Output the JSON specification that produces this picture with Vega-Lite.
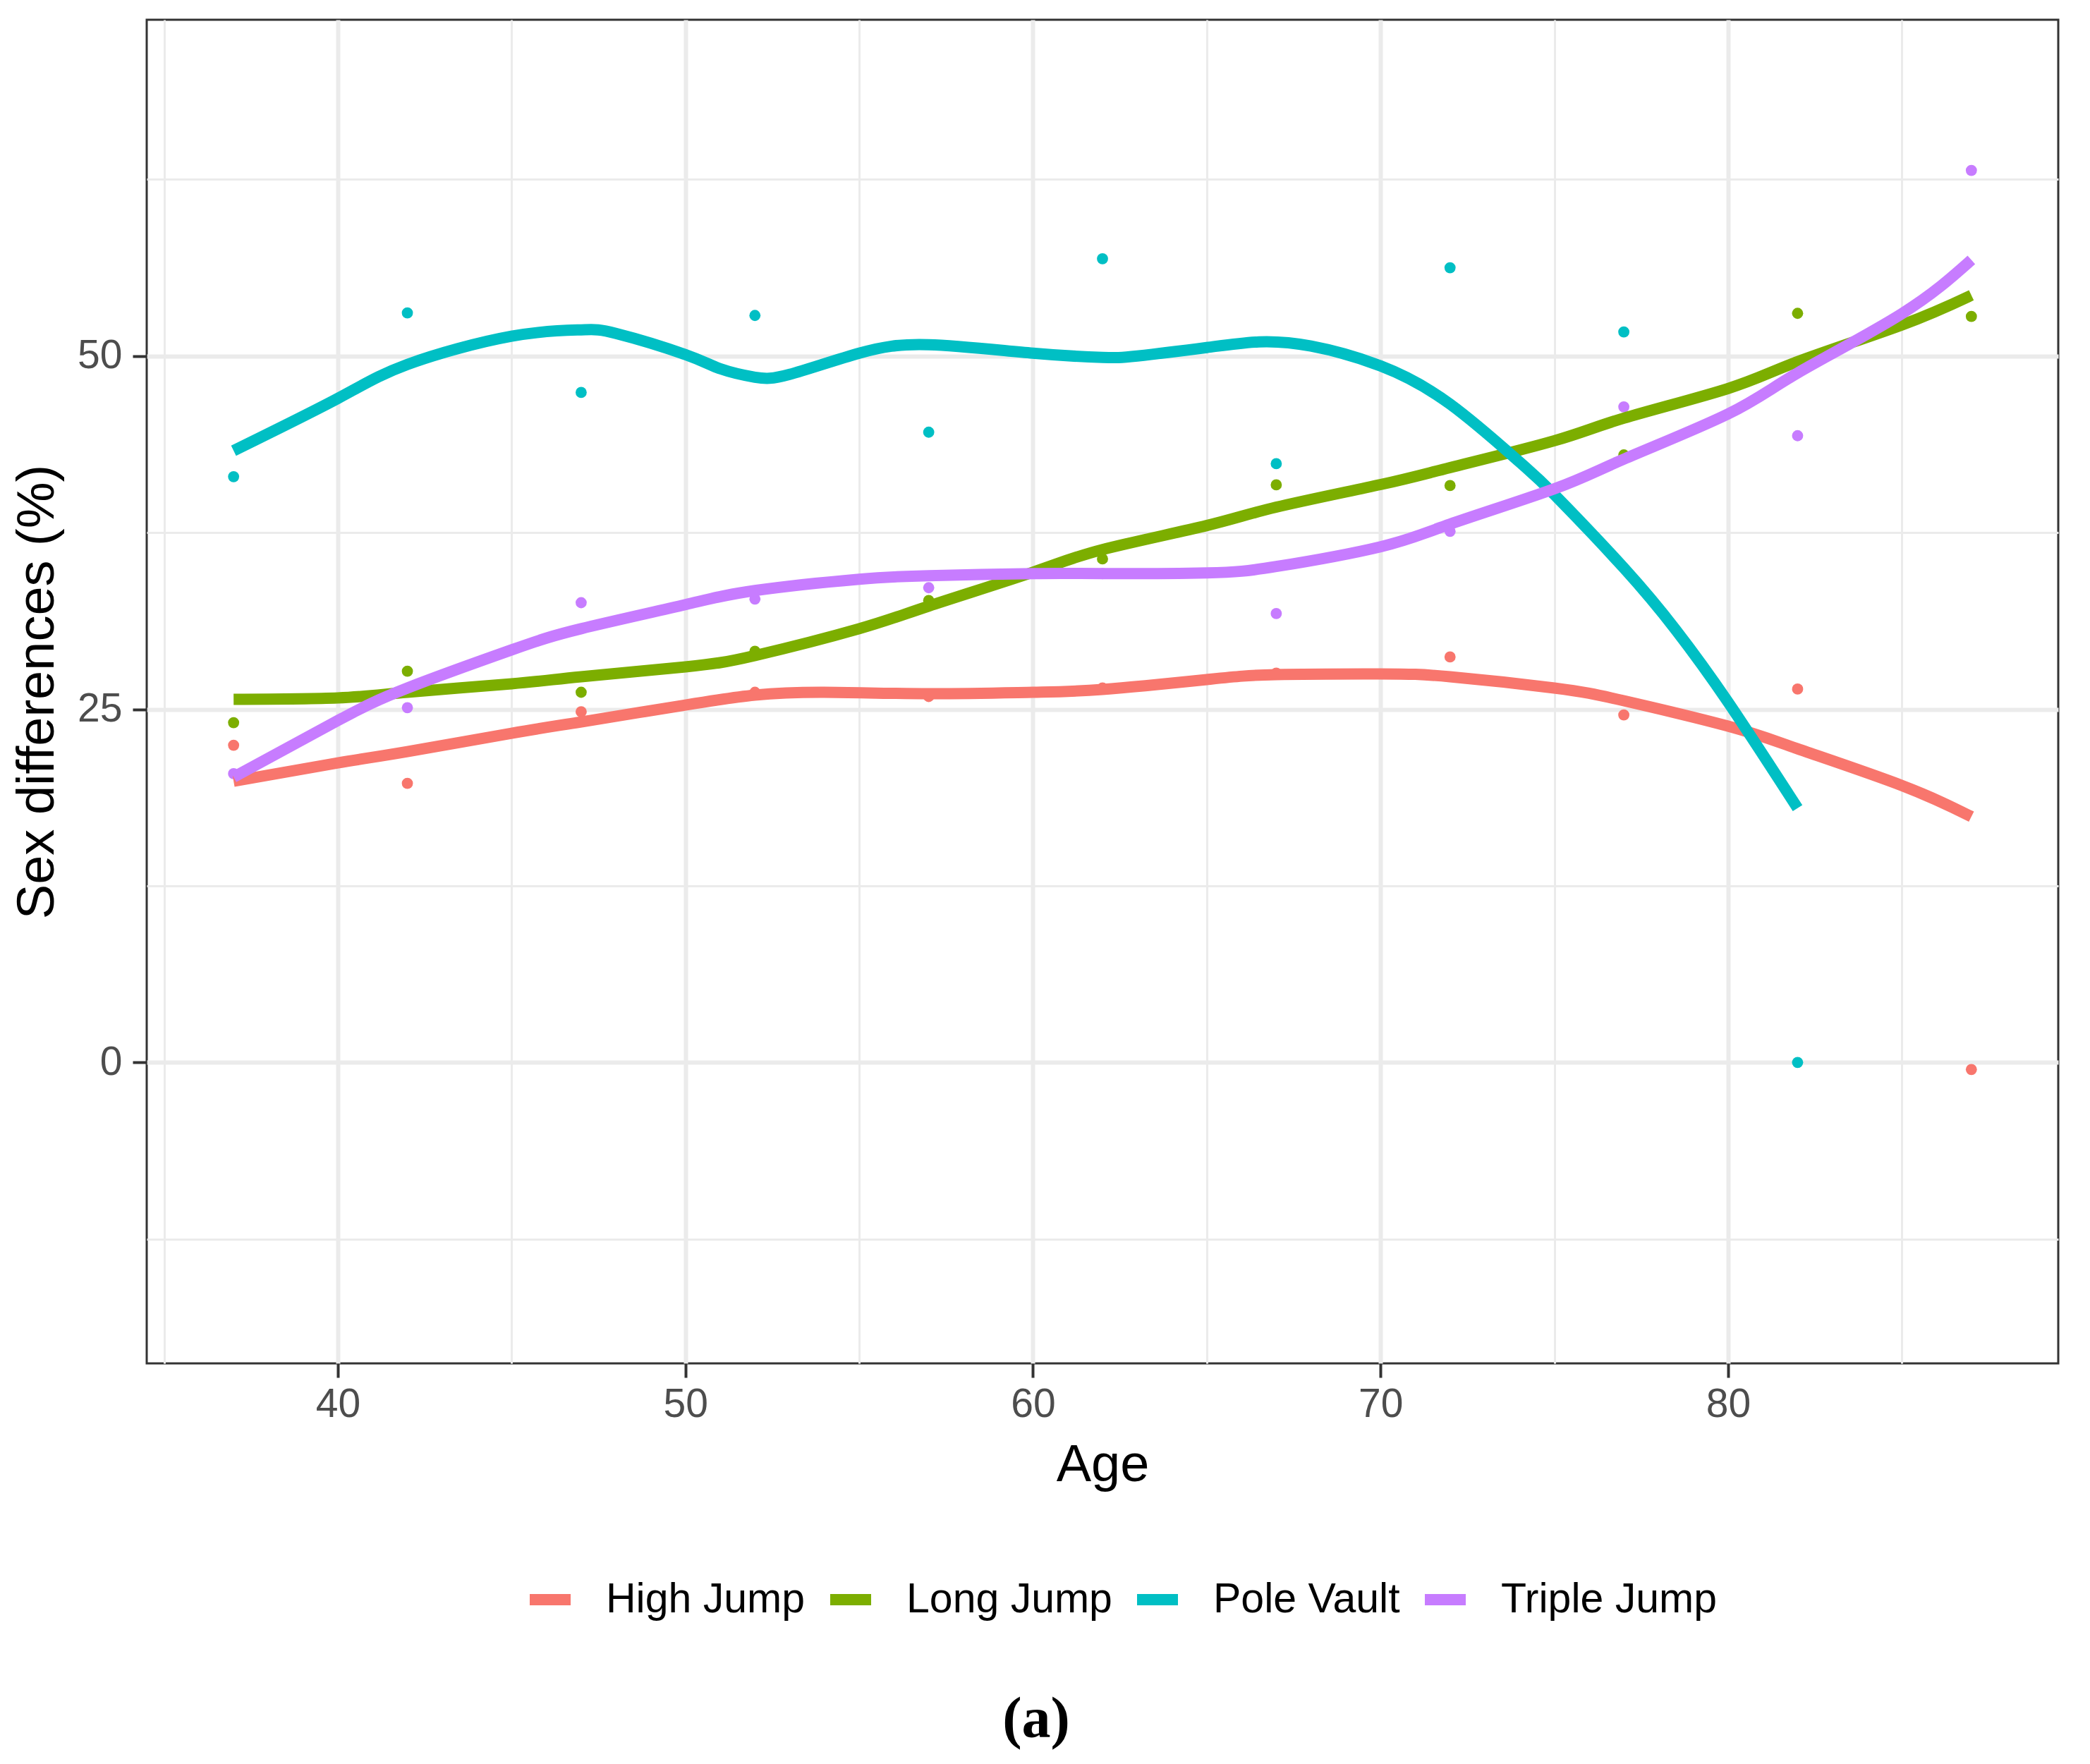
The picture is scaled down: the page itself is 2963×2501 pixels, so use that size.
{
  "$schema": "https://vega.github.io/schema/vega-lite/v6.json",
  "width": 2710,
  "height": 1905,
  "autosize": {"type": "none"},
  "padding": {"left": 208, "top": 28, "right": 45, "bottom": 568},
  "background": "white",
  "title": {
    "text": "(a)",
    "orient": "bottom",
    "anchor": "middle",
    "dx": -94,
    "offset": 98,
    "font": "Liberation Serif",
    "fontSize": 82,
    "fontWeight": "bold",
    "color": "black"
  },
  "config": {
    "view": {"stroke": "#333333", "strokeWidth": 3},
    "axis": {
      "labelFont": "Liberation Sans",
      "titleFont": "Liberation Sans",
      "labelFontSize": 57,
      "labelColor": "#4D4D4D",
      "titleFontSize": 74,
      "titleFontWeight": "normal",
      "titleColor": "black",
      "domain": false,
      "tickColor": "#333333",
      "tickWidth": 4,
      "tickSize": 20,
      "gridColor": "#EBEBEB"
    },
    "legend": {
      "labelFont": "Liberation Sans",
      "labelFontSize": 59,
      "labelColor": "black",
      "labelLimit": 1000
    }
  },
  "datasets": {
    "points": [
      {"event": "High Jump", "age": 37, "value": 22.45},
      {"event": "High Jump", "age": 42, "value": 19.75},
      {"event": "High Jump", "age": 47, "value": 24.82},
      {"event": "High Jump", "age": 52, "value": 26.2},
      {"event": "High Jump", "age": 57, "value": 25.9},
      {"event": "High Jump", "age": 62, "value": 26.5},
      {"event": "High Jump", "age": 67, "value": 27.55},
      {"event": "High Jump", "age": 72, "value": 28.7},
      {"event": "High Jump", "age": 77, "value": 24.6},
      {"event": "High Jump", "age": 82, "value": 26.43},
      {"event": "High Jump", "age": 87, "value": -0.5},
      {"event": "Long Jump", "age": 37, "value": 24.05},
      {"event": "Long Jump", "age": 42, "value": 27.69},
      {"event": "Long Jump", "age": 47, "value": 26.2},
      {"event": "Long Jump", "age": 52, "value": 29.1},
      {"event": "Long Jump", "age": 57, "value": 32.7},
      {"event": "Long Jump", "age": 62, "value": 35.64},
      {"event": "Long Jump", "age": 67, "value": 40.88},
      {"event": "Long Jump", "age": 72, "value": 40.83},
      {"event": "Long Jump", "age": 77, "value": 43.0},
      {"event": "Long Jump", "age": 82, "value": 53.02},
      {"event": "Long Jump", "age": 87, "value": 52.8},
      {"event": "Pole Vault", "age": 37, "value": 41.46},
      {"event": "Pole Vault", "age": 42, "value": 53.05},
      {"event": "Pole Vault", "age": 47, "value": 47.42},
      {"event": "Pole Vault", "age": 52, "value": 52.87},
      {"event": "Pole Vault", "age": 57, "value": 44.61},
      {"event": "Pole Vault", "age": 62, "value": 56.88},
      {"event": "Pole Vault", "age": 67, "value": 42.38},
      {"event": "Pole Vault", "age": 72, "value": 56.25},
      {"event": "Pole Vault", "age": 77, "value": 51.7},
      {"event": "Pole Vault", "age": 82, "value": 0.0},
      {"event": "Triple Jump", "age": 37, "value": 20.44},
      {"event": "Triple Jump", "age": 42, "value": 25.11},
      {"event": "Triple Jump", "age": 47, "value": 32.54},
      {"event": "Triple Jump", "age": 52, "value": 32.8},
      {"event": "Triple Jump", "age": 57, "value": 33.6},
      {"event": "Triple Jump", "age": 62, "value": 34.6},
      {"event": "Triple Jump", "age": 67, "value": 31.77},
      {"event": "Triple Jump", "age": 72, "value": 37.59},
      {"event": "Triple Jump", "age": 77, "value": 46.4},
      {"event": "Triple Jump", "age": 82, "value": 44.36},
      {"event": "Triple Jump", "age": 87, "value": 63.14}
    ],
    "smooth": [
      {"event": "High Jump", "age": 37, "fit": 19.9},
      {"event": "High Jump", "age": 40, "fit": 21.2},
      {"event": "High Jump", "age": 42, "fit": 22.0},
      {"event": "High Jump", "age": 45, "fit": 23.3},
      {"event": "High Jump", "age": 47, "fit": 24.1},
      {"event": "High Jump", "age": 50, "fit": 25.3},
      {"event": "High Jump", "age": 52, "fit": 26.0},
      {"event": "High Jump", "age": 54, "fit": 26.2},
      {"event": "High Jump", "age": 57, "fit": 26.1},
      {"event": "High Jump", "age": 60, "fit": 26.2},
      {"event": "High Jump", "age": 62, "fit": 26.4},
      {"event": "High Jump", "age": 65, "fit": 27.1},
      {"event": "High Jump", "age": 67, "fit": 27.45},
      {"event": "High Jump", "age": 70, "fit": 27.5},
      {"event": "High Jump", "age": 72, "fit": 27.3},
      {"event": "High Jump", "age": 75, "fit": 26.5},
      {"event": "High Jump", "age": 77, "fit": 25.6},
      {"event": "High Jump", "age": 80, "fit": 23.8},
      {"event": "High Jump", "age": 82, "fit": 22.2},
      {"event": "High Jump", "age": 85, "fit": 19.6},
      {"event": "High Jump", "age": 87, "fit": 17.4},
      {"event": "Long Jump", "age": 37, "fit": 25.7},
      {"event": "Long Jump", "age": 40, "fit": 25.8},
      {"event": "Long Jump", "age": 42, "fit": 26.2},
      {"event": "Long Jump", "age": 45, "fit": 26.8},
      {"event": "Long Jump", "age": 47, "fit": 27.3},
      {"event": "Long Jump", "age": 50, "fit": 28.0},
      {"event": "Long Jump", "age": 52, "fit": 28.8},
      {"event": "Long Jump", "age": 55, "fit": 30.7},
      {"event": "Long Jump", "age": 57, "fit": 32.3},
      {"event": "Long Jump", "age": 60, "fit": 34.7},
      {"event": "Long Jump", "age": 62, "fit": 36.3},
      {"event": "Long Jump", "age": 65, "fit": 38.0},
      {"event": "Long Jump", "age": 67, "fit": 39.3},
      {"event": "Long Jump", "age": 70, "fit": 40.9},
      {"event": "Long Jump", "age": 72, "fit": 42.1},
      {"event": "Long Jump", "age": 75, "fit": 44.0},
      {"event": "Long Jump", "age": 77, "fit": 45.6},
      {"event": "Long Jump", "age": 80, "fit": 47.7},
      {"event": "Long Jump", "age": 82, "fit": 49.6},
      {"event": "Long Jump", "age": 85, "fit": 52.2},
      {"event": "Long Jump", "age": 87, "fit": 54.3},
      {"event": "Pole Vault", "age": 37, "fit": 43.3},
      {"event": "Pole Vault", "age": 40, "fit": 47.0},
      {"event": "Pole Vault", "age": 42, "fit": 49.4},
      {"event": "Pole Vault", "age": 45, "fit": 51.4},
      {"event": "Pole Vault", "age": 47, "fit": 51.85},
      {"event": "Pole Vault", "age": 48, "fit": 51.6},
      {"event": "Pole Vault", "age": 50, "fit": 50.1},
      {"event": "Pole Vault", "age": 51, "fit": 49.1},
      {"event": "Pole Vault", "age": 52, "fit": 48.5},
      {"event": "Pole Vault", "age": 53, "fit": 48.7},
      {"event": "Pole Vault", "age": 55, "fit": 50.2},
      {"event": "Pole Vault", "age": 57, "fit": 50.8},
      {"event": "Pole Vault", "age": 60, "fit": 50.2},
      {"event": "Pole Vault", "age": 62, "fit": 49.9},
      {"event": "Pole Vault", "age": 63, "fit": 50.0},
      {"event": "Pole Vault", "age": 65, "fit": 50.6},
      {"event": "Pole Vault", "age": 66.5, "fit": 51.0},
      {"event": "Pole Vault", "age": 68, "fit": 50.7},
      {"event": "Pole Vault", "age": 70, "fit": 49.3},
      {"event": "Pole Vault", "age": 72, "fit": 46.6},
      {"event": "Pole Vault", "age": 74, "fit": 42.5},
      {"event": "Pole Vault", "age": 75, "fit": 40.2},
      {"event": "Pole Vault", "age": 77, "fit": 35.0},
      {"event": "Pole Vault", "age": 78.5, "fit": 30.6},
      {"event": "Pole Vault", "age": 80, "fit": 25.5},
      {"event": "Pole Vault", "age": 82, "fit": 18.0},
      {"event": "Triple Jump", "age": 37, "fit": 20.2},
      {"event": "Triple Jump", "age": 40, "fit": 24.2},
      {"event": "Triple Jump", "age": 42, "fit": 26.5},
      {"event": "Triple Jump", "age": 45, "fit": 29.2},
      {"event": "Triple Jump", "age": 47, "fit": 30.7},
      {"event": "Triple Jump", "age": 50, "fit": 32.4},
      {"event": "Triple Jump", "age": 52, "fit": 33.4},
      {"event": "Triple Jump", "age": 55, "fit": 34.2},
      {"event": "Triple Jump", "age": 57, "fit": 34.45},
      {"event": "Triple Jump", "age": 60, "fit": 34.6},
      {"event": "Triple Jump", "age": 62, "fit": 34.6},
      {"event": "Triple Jump", "age": 65, "fit": 34.65},
      {"event": "Triple Jump", "age": 67, "fit": 35.1},
      {"event": "Triple Jump", "age": 70, "fit": 36.5},
      {"event": "Triple Jump", "age": 72, "fit": 38.1},
      {"event": "Triple Jump", "age": 75, "fit": 40.6},
      {"event": "Triple Jump", "age": 77, "fit": 42.7},
      {"event": "Triple Jump", "age": 80, "fit": 45.9},
      {"event": "Triple Jump", "age": 82, "fit": 48.8},
      {"event": "Triple Jump", "age": 85, "fit": 53.0},
      {"event": "Triple Jump", "age": 87, "fit": 56.8}
    ]
  },
  "encoding": {
    "color": {
      "field": "event",
      "type": "nominal",
      "scale": {
        "domain": ["High Jump", "Long Jump", "Pole Vault", "Triple Jump"],
        "range": ["#F8766D", "#7CAE00", "#00BFC4", "#C77CFF"]
      },
      "legend": {
        "title": null,
        "orient": "none",
        "direction": "horizontal",
        "legendX": 535,
        "legendY": 2203,
        "padding": 0,
        "symbolType": "stroke",
        "symbolSize": 3364,
        "symbolStrokeWidth": 16,
        "symbolOpacity": 1,
        "labelOffset": 42,
        "columnPadding": 3
      }
    }
  },
  "layer": [
    {
      "data": {"name": "points"},
      "mark": {"type": "point", "filled": true, "opacity": 1, "size": 250},
      "encoding": {
        "x": {
          "field": "age",
          "type": "quantitative",
          "title": "Age",
          "scale": {"domain": [34.5, 89.5], "nice": false, "zero": false},
          "axis": {
            "values": [35, 40, 45, 50, 55, 60, 65, 70, 75, 80, 85],
            "labelExpr": "datum.value % 10 === 0 ? datum.label : ''",
            "labelPadding": 10,
            "titlePadding": 22,
            "tickOpacity": {"condition": {"test": "datum.value % 10 === 0", "value": 1}, "value": 0},
            "gridWidth": {"condition": {"test": "datum.value % 10 === 0", "value": 6}, "value": 3}
          }
        },
        "y": {
          "field": "value",
          "type": "quantitative",
          "title": "Sex differences (%)",
          "scale": {"domain": [-21.3, 73.8], "nice": false, "zero": false},
          "axis": {
            "values": [-12.5, 0, 12.5, 25, 37.5, 50, 62.5],
            "labelExpr": "datum.value % 25 === 0 ? datum.label : ''",
            "labelPadding": 15,
            "titlePadding": 18,
            "tickOpacity": {"condition": {"test": "datum.value % 25 === 0", "value": 1}, "value": 0},
            "gridWidth": {"condition": {"test": "datum.value % 25 === 0", "value": 6}, "value": 3}
          }
        }
      }
    },
    {
      "data": {"name": "smooth"},
      "mark": {"type": "line", "strokeWidth": 16, "interpolate": "natural"},
      "encoding": {
        "x": {"field": "age", "type": "quantitative"},
        "y": {"field": "fit", "type": "quantitative"}
      }
    }
  ]
}
